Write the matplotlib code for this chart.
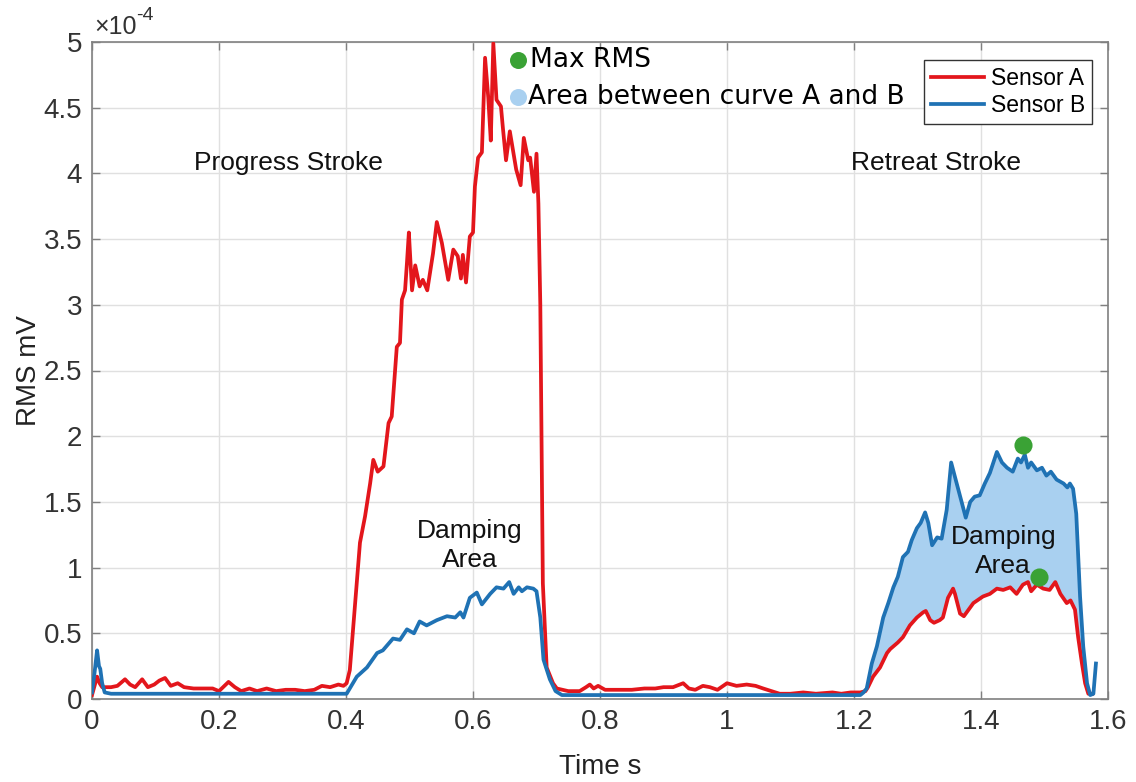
import numpy as np
import matplotlib
matplotlib.use("Agg")
import matplotlib.pyplot as plt
from matplotlib.ticker import FuncFormatter

# ---------------- data (RMS in units of 1e-4 mV) ----------------
t_a = [0.000, 0.004, 0.008, 0.012, 0.016, 0.030, 0.040, 0.052, 0.060, 0.068, 0.079, 0.088,
       0.098, 0.106, 0.115, 0.124, 0.135, 0.145, 0.160, 0.175, 0.190, 0.200, 0.215, 0.225,
       0.235, 0.248, 0.260, 0.275, 0.290, 0.305, 0.320, 0.335, 0.350, 0.362, 0.375, 0.388,
       0.396, 0.401, 0.406, 0.414, 0.422, 0.430, 0.438, 0.443, 0.450, 0.459, 0.467, 0.472,
       0.480, 0.485, 0.488, 0.493, 0.496, 0.499, 0.504, 0.509, 0.516, 0.521, 0.528, 0.537,
       0.543, 0.551, 0.561, 0.569, 0.576, 0.581, 0.584, 0.589, 0.595, 0.600, 0.603, 0.608,
       0.614, 0.619, 0.624, 0.628, 0.632, 0.637, 0.644, 0.647, 0.652, 0.658, 0.668, 0.675,
       0.680, 0.687, 0.690, 0.696, 0.700, 0.703, 0.706, 0.710, 0.716, 0.726, 0.732, 0.750,
       0.768, 0.778, 0.784, 0.790, 0.797, 0.808, 0.830, 0.850, 0.870, 0.887, 0.900, 0.915,
       0.931, 0.940, 0.950, 0.962, 0.973, 0.985, 1.000, 1.015, 1.031, 1.045, 1.057, 1.070,
       1.083, 1.100, 1.120, 1.140, 1.166, 1.180, 1.195, 1.210, 1.218, 1.222, 1.230, 1.241,
       1.252, 1.257, 1.269, 1.277, 1.288, 1.299, 1.309, 1.313, 1.320, 1.326, 1.335, 1.340,
       1.348, 1.356, 1.359, 1.367, 1.373, 1.388, 1.403, 1.414, 1.425, 1.435, 1.446, 1.456,
       1.466, 1.474, 1.479, 1.488, 1.498, 1.508, 1.517, 1.525, 1.535, 1.541, 1.548, 1.553,
       1.559, 1.564, 1.569, 1.575]
rms_a = [0.03, 0.10, 0.17, 0.12, 0.09, 0.09, 0.10, 0.15, 0.11, 0.09, 0.15, 0.09,
         0.11, 0.14, 0.16, 0.10, 0.12, 0.09, 0.08, 0.08, 0.08, 0.06, 0.13, 0.09,
         0.06, 0.08, 0.06, 0.08, 0.06, 0.07, 0.07, 0.06, 0.07, 0.10, 0.09, 0.11,
         0.10, 0.12, 0.22, 0.70, 1.19, 1.39, 1.64, 1.82, 1.73, 1.77, 2.10, 2.15,
         2.68, 2.71, 3.04, 3.11, 3.32, 3.55, 3.11, 3.30, 3.14, 3.19, 3.11, 3.39,
         3.63, 3.47, 3.19, 3.42, 3.37, 3.20, 3.38, 3.17, 3.52, 3.55, 3.90, 4.12,
         4.16, 4.88, 4.58, 4.25, 4.99, 4.56, 4.51, 4.35, 4.10, 4.32, 4.03, 3.91,
         4.27, 4.10, 4.12, 3.86, 4.15, 3.77, 3.00, 0.88, 0.24, 0.12, 0.08, 0.06,
         0.06, 0.09, 0.11, 0.08, 0.10, 0.07, 0.07, 0.07, 0.08, 0.08, 0.09, 0.09,
         0.12, 0.08, 0.07, 0.10, 0.09, 0.07, 0.12, 0.10, 0.11, 0.10, 0.08, 0.06,
         0.04, 0.04, 0.05, 0.04, 0.05, 0.04, 0.05, 0.05, 0.06, 0.09, 0.17, 0.24,
         0.35, 0.38, 0.43, 0.47, 0.56, 0.62, 0.66, 0.67, 0.60, 0.58, 0.60, 0.62,
         0.77, 0.84, 0.80, 0.65, 0.63, 0.73, 0.78, 0.80, 0.84, 0.83, 0.85, 0.80,
         0.87, 0.89, 0.82, 0.87, 0.84, 0.83, 0.89, 0.80, 0.73, 0.75, 0.68, 0.47,
         0.27, 0.12, 0.04, 0.04]

t_b = [0.000, 0.004, 0.008, 0.011, 0.013, 0.016, 0.020, 0.030, 0.100, 0.200, 0.300, 0.401,
       0.417, 0.433, 0.449, 0.458, 0.474, 0.485, 0.496, 0.507, 0.516, 0.527, 0.543, 0.559,
       0.572, 0.580, 0.585, 0.595, 0.606, 0.614, 0.627, 0.637, 0.648, 0.657, 0.664, 0.672,
       0.677, 0.685, 0.695, 0.700, 0.706, 0.711, 0.721, 0.730, 0.740, 0.900, 1.000, 1.100,
       1.210, 1.215, 1.220, 1.228, 1.236, 1.246, 1.254, 1.262, 1.269, 1.277, 1.285, 1.291,
       1.299, 1.305, 1.312, 1.317, 1.323, 1.331, 1.338, 1.346, 1.353, 1.359, 1.370, 1.376,
       1.383, 1.390, 1.398, 1.406, 1.414, 1.425, 1.433, 1.441, 1.450, 1.458, 1.463, 1.469,
       1.474, 1.479, 1.488, 1.496, 1.503, 1.510, 1.519, 1.530, 1.536, 1.540, 1.545, 1.550,
       1.556, 1.561, 1.567, 1.572, 1.577, 1.581]
rms_b = [0.05, 0.20, 0.37, 0.25, 0.23, 0.12, 0.05, 0.04, 0.04, 0.04, 0.04, 0.04,
         0.17, 0.24, 0.35, 0.37, 0.46, 0.45, 0.53, 0.50, 0.59, 0.56, 0.60, 0.63,
         0.62, 0.66, 0.62, 0.77, 0.81, 0.72, 0.80, 0.85, 0.84, 0.89, 0.80, 0.85,
         0.82, 0.85, 0.84, 0.82, 0.62, 0.30, 0.15, 0.06, 0.03, 0.03, 0.03, 0.03,
         0.03, 0.05, 0.08, 0.27, 0.40, 0.62, 0.73, 0.85, 0.93, 1.08, 1.12, 1.21,
         1.30, 1.34, 1.42, 1.34, 1.17, 1.23, 1.22, 1.44, 1.80, 1.69, 1.49, 1.38,
         1.50, 1.54, 1.55, 1.64, 1.72, 1.88, 1.80, 1.76, 1.73, 1.83, 1.80, 1.86,
         1.76, 1.80, 1.74, 1.76, 1.70, 1.73, 1.67, 1.64, 1.61, 1.64, 1.60, 1.41,
         0.78, 0.40, 0.12, 0.03, 0.04, 0.27]

max_t = [1.466, 1.491]
max_rms = [1.93, 0.93]

x_ticks = [0, 0.2, 0.4, 0.6, 0.8, 1.0, 1.2, 1.4, 1.6]
y_ticks = [0, 0.5, 1, 1.5, 2, 2.5, 3, 3.5, 4, 4.5, 5]

# ---------------- figure ----------------
plt.rcParams['font.family'] = ['Liberation Sans', 'DejaVu Sans']
RED = '#e3161c'
BLUE = '#1f72b4'
FILL = '#a9d0f0'
GREEN = '#3aa235'
AXC = '#808080'

fig = plt.figure(figsize=(11.36, 7.82), dpi=100)
ax = fig.add_axes([92/1136, 83/782, 1016/1136, 657/782])

t_a_arr, a_arr = np.array(t_a), np.array(rms_a)
t_b_arr, b_arr = np.array(t_b), np.array(rms_b)

# damping area between curves in retreat stroke
mb = t_b_arr >= 1.215
ma = t_a_arr >= 1.218
ax.fill(np.r_[t_b_arr[mb], t_a_arr[ma][::-1]], np.r_[b_arr[mb], a_arr[ma][::-1]],
        color=FILL, lw=0, zorder=1)

ax.plot(t_a_arr, a_arr, color=RED, lw=2.7, label='Sensor A', zorder=3)
ax.plot(t_b_arr, b_arr, color=BLUE, lw=2.7, label='Sensor B', zorder=3)
ax.scatter(max_t, max_rms, s=170, color=GREEN, zorder=4, linewidths=0)

ax.set_xlim(0, 1.6)
ax.set_ylim(0, 5)
ax.set_xticks(x_ticks)
ax.set_yticks(y_ticks)
fmt = FuncFormatter(lambda v, p: ('%g' % round(v, 3)))
ax.xaxis.set_major_formatter(fmt)
ax.yaxis.set_major_formatter(fmt)
ax.tick_params(direction='in', length=6, width=1, labelcolor='#333333', labelsize=20,
               top=True, right=True, pad=7, color=AXC)
ax.grid(True, color='#e0e0e0', lw=1)
ax.set_axisbelow(True)
for s in ax.spines.values():
    s.set_color(AXC)
    s.set_linewidth(1.2)

ax.set_xlabel('Time s', fontsize=20, color='#222222', labelpad=14)
ax.set_ylabel('RMS mV', fontsize=20, color='#222222', labelpad=1)

# exponent label
t1 = ax.text(0.002, 1.004, '×10', transform=ax.transAxes, ha='left', va='bottom',
             fontsize=18, color='#333333')
ax.annotate('-4', xy=(1, 0.62), xycoords=t1, ha='left', va='bottom',
            fontsize=14, color='#333333')

# annotations
ax.text(0.309, 4.08, 'Progress Stroke', fontsize=19, ha='center', va='center', color='#111111')
ax.text(1.329, 4.08, 'Retreat Stroke', fontsize=19, ha='center', va='center', color='#111111')
ax.text(0.595, 1.17, 'Damping\nArea', fontsize=19, ha='center', va='center',
        color='#111111', linespacing=1.25)
ax.text(1.435, 1.12, 'Damping\nArea', fontsize=19, ha='center', va='center',
        color='#111111', linespacing=1.25, zorder=5)

# custom key
ax.scatter([0.671], [4.86], s=150, color=GREEN, zorder=5, linewidths=0, clip_on=False)
ax.scatter([0.671], [4.58], s=150, color=FILL, zorder=5, linewidths=0, clip_on=False)
ax.text(0.69, 4.86, 'Max RMS', fontsize=19, ha='left', va='center',
        family=['DejaVu Sans'], color='#000000')
ax.text(0.687, 4.58, 'Area between curve A and B', fontsize=19, ha='left', va='center',
        family=['DejaVu Sans'], color='#000000')

leg = ax.legend(loc='upper right', bbox_to_anchor=(0.984, 0.973), fontsize=16.5,
                frameon=True, fancybox=False, edgecolor='#333333', framealpha=1,
                handlelength=2.3, handletextpad=0.3, borderpad=0.3, labelspacing=0.2,
                borderaxespad=0)
leg.get_frame().set_linewidth(1.0)

fig.savefig('out.png', dpi=100)
